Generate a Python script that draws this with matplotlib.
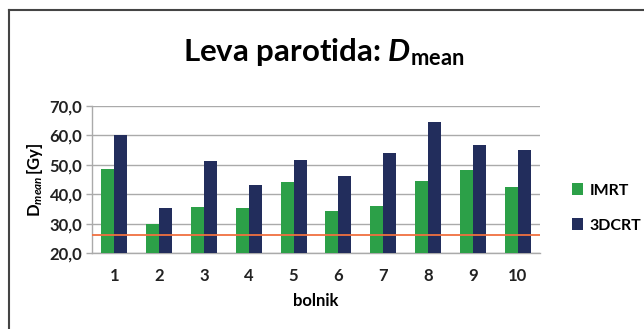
import matplotlib.pyplot as plt
import numpy as np

plt.rcParams['font.family'] = ['Lato', 'DejaVu Sans']
plt.rcParams['mathtext.fontset'] = 'custom'
plt.rcParams['mathtext.rm'] = 'Lato:bold'
plt.rcParams['mathtext.it'] = 'Lato:bold:italic'
plt.rcParams['mathtext.bf'] = 'Lato:bold'

# povprečna doza na levo parotido po bolnikih
bolniki = ['1', '2', '3', '4', '5', '6', '7', '8', '9', '10']
imrt = [48.6, 29.9, 35.7, 35.2, 44.2, 34.4, 36.1, 44.6, 48.3, 42.4]
dcrt3 = [60.0, 35.3, 51.4, 43.2, 51.6, 46.1, 54.0, 64.7, 56.8, 55.0]
omejitev = 26.0

fig = plt.figure(figsize=(6.44, 3.29), dpi=100)
ax = fig.add_axes([92 / 644, 1 - 253 / 329, 448 / 644, 147 / 329])

x = np.arange(len(bolniki))
w = 0.29
ax.bar(x - w / 2, imrt, w, color='#2ca048', label='IMRT', zorder=3)
ax.bar(x + w / 2, dcrt3, w, color='#222d5c', label='3DCRT', zorder=3)
ax.axhline(omejitev, color='#f07040', lw=1.3, zorder=4)

fs = 12
ax.set_xlim(-0.5, len(bolniki) - 0.5)
ax.set_ylim(20, 70)
ax.set_yticks(np.arange(20, 71, 10))
ax.set_yticklabels([f'{v:.1f}'.replace('.', ',') for v in np.arange(20, 71, 10)],
                   fontweight='bold', fontsize=fs, color='#222222')
ax.set_xticks(x)
ax.set_xticklabels(bolniki, fontweight='bold', fontsize=fs, color='#222222')
ax.tick_params(axis='x', length=0, pad=11)
ax.tick_params(axis='y', length=4, color='#aaaaaa', width=1, pad=3)
ax.yaxis.grid(True, color='#aaaaaa', lw=1, zorder=0)
for s in ['top', 'right']:
    ax.spines[s].set_visible(False)
for s in ['left', 'bottom']:
    ax.spines[s].set_color('#aaaaaa')
    ax.spines[s].set_linewidth(1)

ax.set_xlabel('bolnik', fontweight='bold', fontsize=fs, labelpad=6)
ax.set_ylabel(r'$\mathrm{D}_{\mathit{mean}}\,\mathrm{[Gy]}$', fontsize=fs, labelpad=3)

fig.text(324 / 644, 1 - 52 / 329, r'Leva parotida: $D_{\mathrm{mean}}$',
         ha='center', va='center', fontsize=22.5, fontweight='bold')

ax.legend(loc='center left', bbox_to_anchor=(1.071, 0.306), frameon=False,
          borderpad=0, borderaxespad=0,
          handlelength=0.7, handleheight=0.7, handletextpad=0.4,
          labelspacing=1.3, prop={'weight': 'bold', 'size': 11.5})

# okvir grafa
fig.add_artist(plt.Line2D([8.5 / 644, 1], [1 - 9.5 / 329] * 2, color='#444444', lw=1.5))
fig.add_artist(plt.Line2D([8.5 / 644] * 2, [0, 1 - 9.5 / 329], color='#444444', lw=1.5))

fig.savefig('out.png', dpi=100)
